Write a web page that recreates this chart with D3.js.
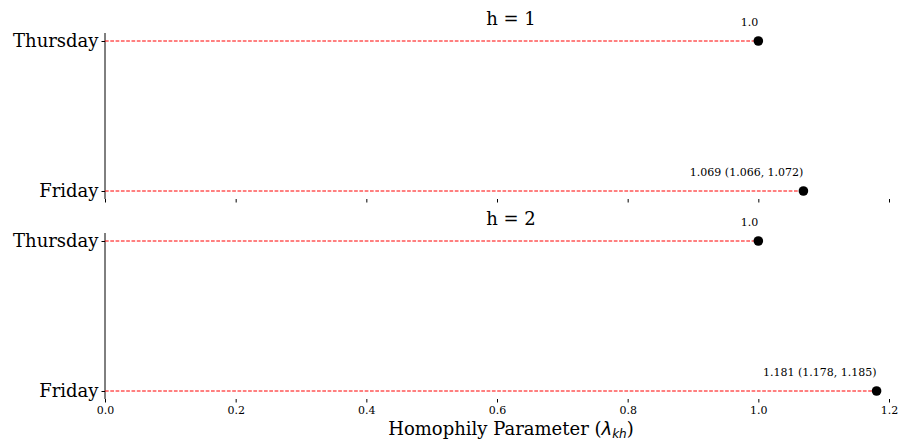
<!DOCTYPE html>
<html><head><meta charset="utf-8">
<script src="https://cdn.jsdelivr.net/npm/d3@7"></script>
<style>body{margin:0;background:#fff;} svg{display:block;font-family:"DejaVu Serif",serif;}</style>
</head><body><svg id="c" width="901" height="441"></svg>
<script>
const categories = ["Thursday", "Friday"];
const panels = ["h = 1", "h = 2"];
const estimates = [[1.0, 1.069], [1.0, 1.181]];
const labels = [["1.0", "1.069 (1.066, 1.072)"], ["1.0", "1.181 (1.178, 1.185)"]];
const xTicks = [0.0, 0.2, 0.4, 0.6, 0.8, 1.0, 1.2];

const svg = d3.select("#c");
const x = d3.scaleLinear().domain([0, 1.2]).range([105, 889]);
const panelTop = [33, 233];
const panelH = 166;

panels.forEach((title, p) => {
  const g = svg.append("g");
  const y = d3.scalePoint().domain(categories).range([panelTop[p] + 8, panelTop[p] + 158]);
  g.append("line").attr("x1", 105).attr("x2", 105).attr("y1", panelTop[p]).attr("y2", panelTop[p] + panelH)
    .attr("stroke", "#000").attr("stroke-width", 1);
  const ya = g.append("g").attr("transform", "translate(105,0)")
    .call(d3.axisLeft(y).tickSize(3.5).tickPadding(3));
  ya.select(".domain").remove();
  ya.selectAll("text").attr("font-size", 18).attr("font-family", "DejaVu Serif").attr("fill", "#000");
  ya.selectAll("line").attr("stroke", "#000");
  const xa = g.append("g").attr("transform", `translate(0,${panelTop[p] + panelH})`)
    .call(d3.axisBottom(x).tickValues(xTicks).tickSize(3.5).tickPadding(4).tickFormat(d3.format(".1f")));
  xa.select(".domain").remove();
  xa.selectAll("line").attr("stroke", "#000");
  xa.selectAll("text").attr("font-size", 11).attr("font-family", "DejaVu Serif").attr("fill", "#000");
  if (p === 0) xa.selectAll("text").remove();
  g.append("text").attr("x", 511).attr("y", panelTop[p] - 8).attr("text-anchor", "middle")
    .attr("font-size", 18).text(title);
  categories.forEach((c, i) => {
    const v = estimates[p][i];
    g.append("line").attr("x1", x(0)).attr("x2", x(v)).attr("y1", y(c)).attr("y2", y(c))
      .attr("stroke", "#ff0000").attr("stroke-width", 1).attr("stroke-dasharray", "3.7,1.6");
    g.append("circle").attr("cx", x(v)).attr("cy", y(c)).attr("r", 4.8).attr("fill", "#000");
    g.append("text").attr("x", x(v)).attr("y", y(c) - 15).attr("text-anchor", "end")
      .attr("font-size", 11).attr("fill", "#000").text(labels[p][i]);
  });
});

const xl = svg.append("text").attr("x", 511).attr("y", 435).attr("text-anchor", "middle").attr("font-size", 18);
xl.append("tspan").text("Homophily Parameter (");
xl.append("tspan").attr("font-style", "italic").attr("font-family", "DejaVu Sans").text("λ");
xl.append("tspan").attr("font-style", "italic").attr("font-family", "DejaVu Sans").attr("font-size", 12).attr("dy", 2.5).text("kh");
xl.append("tspan").attr("dy", -2.5).text(")");
</script></body></html>
